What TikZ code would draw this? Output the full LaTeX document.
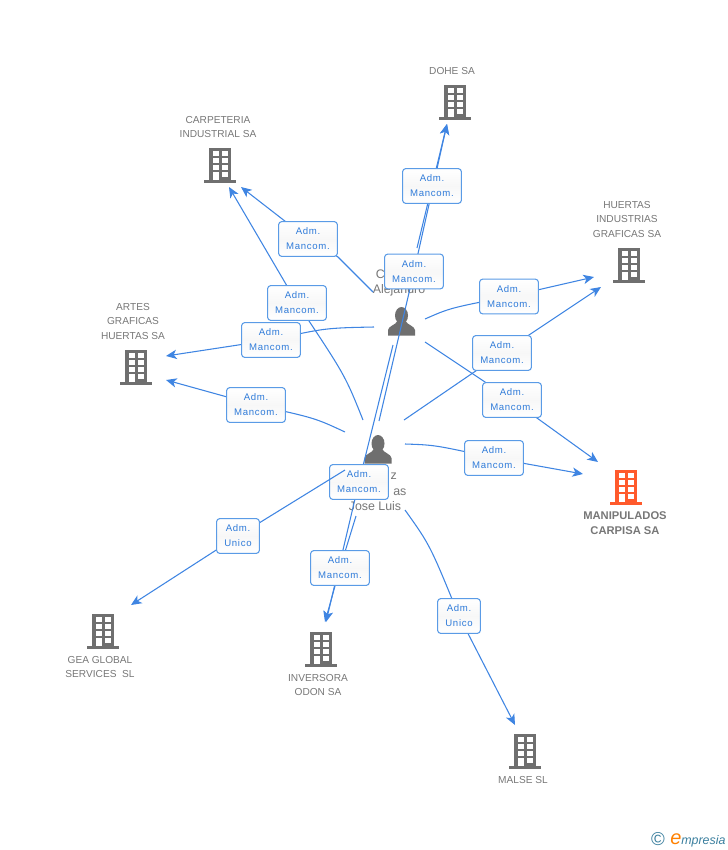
\documentclass[tikz,border=0pt]{standalone}
\usepackage{fontspec}
\setmainfont{Liberation Sans}
\usetikzlibrary{arrows.meta}
\definecolor{linkblue}{HTML}{3F85E2}
\definecolor{textblue}{HTML}{2F7BD9}
\definecolor{edgeblue}{HTML}{5A9BE6}
\definecolor{icongray}{HTML}{6F6F6F}
\definecolor{namegray}{HTML}{777777}
\definecolor{mainred}{HTML}{FF5A2C}
\definecolor{logoblue}{HTML}{3B7F9E}
\tikzset{
  link/.style={draw=linkblue,line width=0.8pt},
  tip/.style={link,-{Stealth[length=8pt,width=7pt,inset=2.2pt]}},
  mancom/.style={draw=edgeblue,line width=0.8pt,rounded corners=2.2pt,top color=white,bottom color=white,middle color=gray!6,
    minimum width=44pt,minimum height=26pt,inner sep=0pt,align=center,text=textblue,
    font=\fontsize{7.2}{11.2}\selectfont\addfontfeature{LetterSpace=7}},
  company/.style={align=center,text=namegray,font=\fontsize{7.6}{11.2}\selectfont},
  owner/.style={align=center,text=namegray,font=\fontsize{9.3}{11.6}\selectfont},
  pics/building/.style={code={
    \fill[#1] (-11,-17) rectangle (11,15);
    \fill[#1] (-16,15) rectangle (16,17.5);
    \foreach \py in {-14,-7,0} {
      \fill[white] (-7.5,\py) rectangle (-1.5,\py+5);
      \fill[white] (2,\py) rectangle (8,\py+5);
    }
    \fill[white] (-7.5,7) rectangle (-1.5,15);
    \fill[white] (2,7) rectangle (8,12);
  }},
  pics/person/.style={code={
    \fill[icongray] (0,-6.5) ellipse (6.5 and 8.5);
    \fill[icongray] (-13.5,13.5) -- (-13.5,8) .. controls (-13,4) and (-6,3) .. (-4,-1) -- (4,-1)
      .. controls (6,3) and (13,4) .. (13.5,8) -- (13.5,13.5) -- cycle;
  }}
}
\begin{document}
\begin{tikzpicture}[x=0.75pt,y=-0.75pt]
\useasboundingbox (0,0) rectangle (728,850);

% Drawing companies
\pic at (455,102) {building=icongray};
\node[company] (dohe) at (452,71) {DOHE SA};
\pic at (220,165) {building=icongray};
\node[company] (carpeteria) at (218,127) {CARPETERIA\\INDUSTRIAL SA};
\pic at (629,265) {building=icongray};
\node[company] (huertas) at (627,219.5) {HUERTAS\\INDUSTRIAS\\GRAFICAS SA};
\pic at (136,367) {building=icongray};
\node[company] (artes) at (133,321.5) {ARTES\\GRAFICAS\\HUERTAS SA};
\pic at (626,487) {building=mainred};
\node[company,font=\fontsize{8.4}{11.2}\selectfont\bfseries] (manipulados) at (625,523) {MANIPULADOS\\CARPISA SA};
\pic at (103,631) {building=icongray};
\node[company] (gea) at (100,667) {GEA GLOBAL\\SERVICES\ \ SL};
\pic at (321,649) {building=icongray};
\node[company] (inversora) at (318,685) {INVERSORA\\ODON SA};
\pic at (525,751) {building=icongray};
\node[company] (malse) at (523,780) {MALSE SL};

% Drawing persons
\pic at (401.5,322) {person};
\node[owner] (alejandro) at (399,283) {C\phantom{xxxxxx}\\Alejandro};
\pic at (378,450) {person};
\node[owner] (joseluis) at (375,492) {\phantom{xxxxxx}z\\\phantom{xxxxxxxx}as\\Jose Luis};

% Ends of the connectors
\coordinate (topA) at (417,248);
\coordinate (topB) at (373,292);
\coordinate (topC) at (425,319);
\coordinate (topD) at (425,342);
\coordinate (topE) at (374,327);
\coordinate (topF) at (393,345);
\coordinate (lowA) at (379,421);
\coordinate (lowB) at (363,420);
\coordinate (lowC) at (404,420);
\coordinate (lowD) at (405,444);
\coordinate (lowE) at (345,432);
\coordinate (lowF) at (345,470);
\coordinate (lowG) at (405,510);
\coordinate (lowH) at (356,516);
\coordinate (toDohe) at (447,124);
\coordinate (toCarpA) at (241,187);
\coordinate (toCarpB) at (229,187);
\coordinate (toHuerA) at (594,277);
\coordinate (toHuerB) at (601,287);
\coordinate (toManiA) at (598,462);
\coordinate (toManiB) at (583,474);
\coordinate (toArteA) at (166,356);
\coordinate (toArteB) at (166,380);
\coordinate (toGea) at (131,605);
\coordinate (toMalse) at (515,725);
\coordinate (toInverA) at (326,622);
\coordinate (toInverB) at (325,622);

% Centres of the boxes
\coordinate (midA) at (432,186);
\coordinate (midB) at (414,271.5);
\coordinate (midC) at (308,239);
\coordinate (midD) at (297,303);
\coordinate (midE) at (509,296.5);
\coordinate (midF) at (502,353);
\coordinate (midG) at (512,400);
\coordinate (midH) at (494,458);
\coordinate (midI) at (271,340);
\coordinate (midJ) at (256,405);
\coordinate (midK) at (238,536);
\coordinate (midL) at (459,616);
\coordinate (midM) at (359,482);
\coordinate (midN) at (340,568);

% Connecting them
\draw[link] (topA) -- (midA);
\draw[tip] (midA) -- (toDohe);
\draw[link] (lowA) -- (midB);
\draw[tip] (midB) -- (toDohe);
\draw[link] (topB) -- (338,257) -- (midC);
\draw[tip] (midC) -- (toCarpA);
\draw[link] (lowB) .. controls (345,375) .. (midD);
\draw[tip] (midD) -- (toCarpB);
\draw[link] (topC) .. controls (450,308) .. (midE);
\draw[tip] (midE) -- (toHuerA);
\draw[link] (lowC) -- (midF);
\draw[tip] (midF) -- (toHuerB);
\draw[link] (topD) -- (midG);
\draw[tip] (midG) -- (toManiA);
\draw[link] (lowD) .. controls (435,445) .. (midH);
\draw[tip] (midH) -- (toManiB);
\draw[link] (topE) .. controls (325,328) .. (midI);
\draw[tip] (midI) -- (toArteA);
\draw[link] (lowE) .. controls (315,418) .. (midJ);
\draw[tip] (midJ) -- (toArteB);
\draw[tip] (midK) -- (toGea);
\draw[link] (lowG) .. controls (430,545) .. (midL);
\draw[tip] (midL) -- (toMalse);
\draw[link] (topF) -- (midM);
\draw[tip] (midM) -- (toInverA);
\draw[link] (lowH) -- (midN);
\draw[tip] (midN) -- (toInverB);

% Drawing boxes
\node[mancom] (boxA) at (midA) {Adm.\\Mancom.};
\node[mancom] (boxB) at (midB) {Adm.\\Mancom.};
\node[mancom] (boxC) at (midC) {Adm.\\Mancom.};
\node[mancom] (boxD) at (midD) {Adm.\\Mancom.};
\node[mancom] (boxE) at (midE) {Adm.\\Mancom.};
\node[mancom] (boxF) at (midF) {Adm.\\Mancom.};
\node[mancom] (boxG) at (midG) {Adm.\\Mancom.};
\node[mancom] (boxH) at (midH) {Adm.\\Mancom.};
\node[mancom] (boxI) at (midI) {Adm.\\Mancom.};
\node[mancom] (boxJ) at (midJ) {Adm.\\Mancom.};
\node[mancom] (boxM) at (midM) {Adm.\\Mancom.};
\node[mancom] (boxN) at (midN) {Adm.\\Mancom.};

% This one runs over box M
\draw[link] (lowF) -- (midK);
\node[mancom,minimum width=32pt] (boxK) at (midK) {Adm.\\Unico};
\node[mancom,minimum width=32pt] (boxL) at (midL) {Adm.\\Unico};

% Drawing logo
\node[text=logoblue,font=\fontsize{14}{14}\selectfont] (copyright) at (658,839) {©};
\node[anchor=west,inner sep=0pt,text=logoblue,font=\fontsize{9.3}{9.6}\selectfont\itshape] (empresia) at (670,840) {\textcolor{orange}{\fontsize{15}{15}\selectfont e}mpresia};
\end{tikzpicture}
\end{document}
